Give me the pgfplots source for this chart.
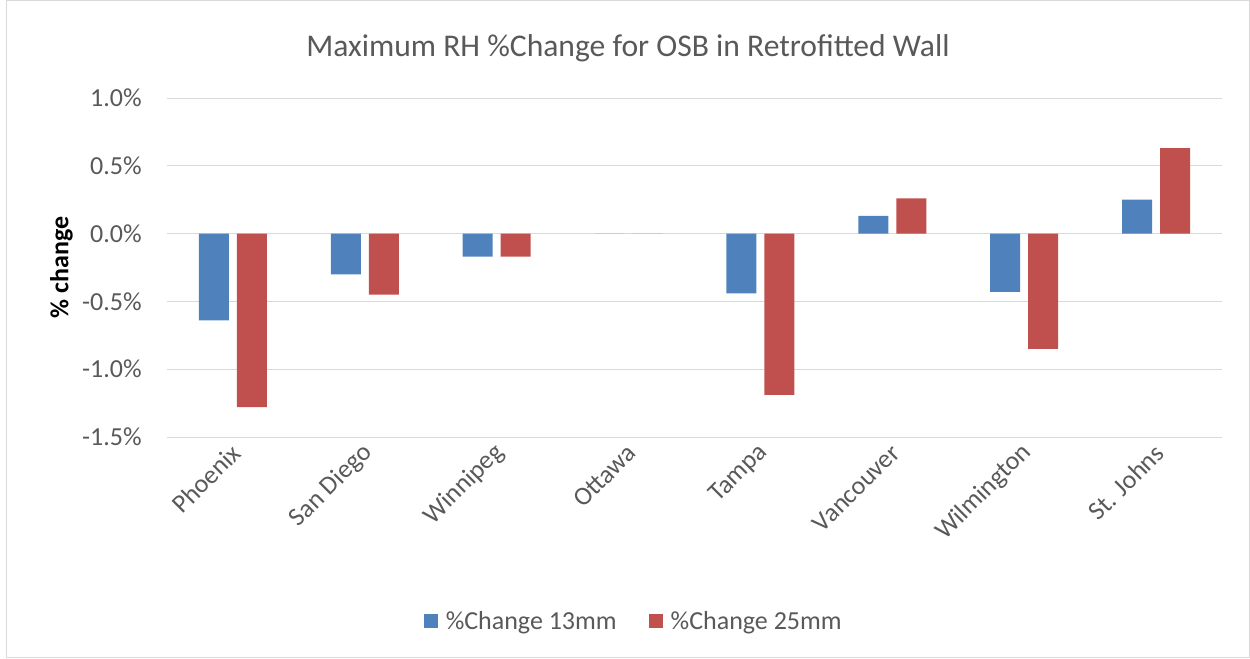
\documentclass[border=0pt]{standalone}
\usepackage{fontspec}
\setmainfont{Carlito}
\usepackage{pgfplots}
\pgfplotsset{compat=1.18}
\definecolor{blueA}{RGB}{79,129,189}
\definecolor{redA}{RGB}{192,80,77}
\definecolor{gridgray}{RGB}{217,217,217}
\definecolor{textgray}{RGB}{89,89,89}
\begin{document}
\begin{tikzpicture}
\path (0,0) rectangle (937.5pt,493.5pt);
\draw[gridgray, line width=0.75pt] (4.5pt,0.75pt) rectangle (936.75pt,492.75pt);
\node[font=\fontsize{23.7}{28}\selectfont, text=textgray] at (471pt,457.5pt) {Maximum RH \%Change for OSB in Retrofitted Wall};
\begin{axis}[
  at={(125.25pt,165.75pt)}, anchor=south west,
  width=791.25pt, height=254.25pt, scale only axis,
  xmin=-0.5, xmax=7.5, ymin=-1.5, ymax=1.0,
  axis line style={draw=none},
  tick style={draw=none},
  ymajorgrids, grid style={color=gridgray, line width=0.75pt},
  ytick={-1.5,-1,-0.5,0,0.5,1},
  /pgf/number format/assume math mode=true,
  yticklabel={\pgfmathprintnumber[fixed,fixed zerofill,precision=1]{\tick}\%},
  yticklabel style={font=\fontsize{19.5}{23}\selectfont, text=textgray, anchor=east, xshift=-15.5pt},
  xtick={0,1,2,3,4,5,6,7},
  xticklabels={Phoenix,San Diego,Winnipeg,Ottawa,Tampa,Vancouver,Wilmington,St. Johns},
  xticklabel style={font=\fontsize{19.5}{23}\selectfont, text=textgray, rotate=45, anchor=east, xshift=-1pt, yshift=-8pt},
  ylabel={\% change},
  ylabel style={font=\bfseries\fontsize{19.5}{23}\selectfont, text=black, at={(axis description cs:-0.1, 0.5)}, anchor=center},
  legend style={at={(axis description cs:0.4427,-0.5428)}, anchor=center, draw=none, fill=none,
    legend columns=2, font=\fontsize{19.5}{23}\selectfont, text=textgray,
    /tikz/every odd column/.append style={column sep=4pt},
    /tikz/every even column/.append style={column sep=22pt}},
  legend image code/.code={\fill[#1] (0pt,-5.25pt) rectangle (10.5pt,5.25pt);},
]
\addplot[ybar, bar width=0.2275, bar shift=-0.144, fill=blueA, draw=none] coordinates {
(0,-0.64) (1,-0.30) (2,-0.17) (3,0) (4,-0.44) (5,0.13) (6,-0.43) (7,0.25)};
\addlegendentry{\%Change 13mm}
\addplot[ybar, bar width=0.2275, bar shift=0.144, fill=redA, draw=none] coordinates {
(0,-1.28) (1,-0.45) (2,-0.17) (3,0) (4,-1.19) (5,0.26) (6,-0.85) (7,0.63)};
\addlegendentry{\%Change 25mm}
\end{axis}
\end{tikzpicture}
\end{document}
